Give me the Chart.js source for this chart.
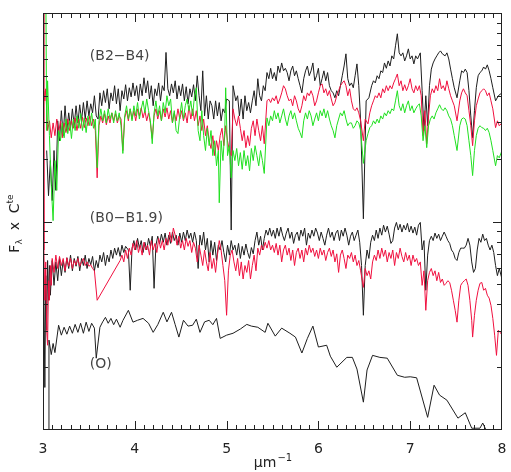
<!DOCTYPE html>
<html>
<head>
<meta charset="utf-8">
<script src="https://cdn.jsdelivr.net/npm/chart.js@4.4.1/dist/chart.umd.min.js"></script>
<style>
  html, body { margin: 0; padding: 0; background: #fff; }
  #spectraChart { display: block; }
</style>
</head>
<body>
<canvas id="spectraChart" width="511" height="472"></canvas>
<script>
// Spectra, [wavenumber (um^-1), flux x const]
const b24Black = [[3.04,21.9],[3.06,13.3],[3.08,19.6],[3.10,12.6],[3.12,21.9],[3.14,14.1],[3.16,30.4],[3.18,24.4],[3.20,34.0],[3.22,25.8],[3.24,35.9],[3.26,27.3],[3.28,33.2],[3.30,28.0],[3.32,34.7],[3.34,28.8],[3.36,35.9],[3.38,29.7],[3.40,36.3],[3.42,30.4],[3.44,37.2],[3.46,31.0],[3.48,37.9],[3.50,32.1],[3.52,36.7],[3.54,33.2],[3.56,40.1],[3.58,32.1],[3.60,31.0],[3.62,41.4],[3.64,35.9],[3.66,42.4],[3.68,37.2],[3.70,43.3],[3.72,34.7],[3.74,41.4],[3.76,37.9],[3.78,44.8],[3.80,36.7],[3.82,43.3],[3.84,34.0],[3.86,42.4],[3.88,38.7],[3.90,45.3],[3.92,37.9],[3.94,43.8],[3.96,39.6],[3.98,46.2],[4.00,40.1],[4.02,44.8],[4.04,37.9],[4.06,45.7],[4.08,40.1],[4.10,48.9],[4.12,41.4],[4.14,47.3],[4.16,38.7],[4.18,44.8],[4.20,35.9],[4.22,43.3],[4.24,40.1],[4.26,46.2],[4.28,37.9],[4.30,44.8],[4.32,42.4],[4.34,64.7],[4.36,43.3],[4.38,40.1],[4.40,45.7],[4.42,41.4],[4.44,47.3],[4.46,38.7],[4.48,44.8],[4.50,40.1],[4.52,45.7],[4.54,37.9],[4.56,44.3],[4.58,36.7],[4.60,43.3],[4.62,39.6],[4.64,45.3],[4.66,37.9],[4.68,50.0],[4.70,40.1],[4.72,34.0],[4.74,52.8],[4.76,32.1],[4.78,40.1],[4.80,31.0],[4.82,37.9],[4.84,35.9],[4.86,31.0],[4.88,37.9],[4.90,32.1],[4.92,37.2],[4.94,30.4],[4.96,34.7],[4.98,33.2],[5.00,38.7],[5.03,37.9],[5.05,9.1],[5.07,44.8],[5.10,37.9],[5.12,40.1],[5.14,32.1],[5.16,38.7],[5.18,31.0],[5.20,40.1],[5.22,34.0],[5.24,37.2],[5.26,33.2],[5.28,37.9],[5.30,42.4],[5.32,35.9],[5.34,48.4],[5.36,40.1],[5.38,37.9],[5.40,44.8],[5.42,42.4],[5.44,51.8],[5.46,48.4],[5.48,54.3],[5.50,48.4],[5.52,51.8],[5.54,47.3],[5.56,55.7],[5.58,51.8],[5.60,57.6],[5.62,52.8],[5.64,54.3],[5.66,51.8],[5.68,47.3],[5.70,52.8],[5.72,55.7],[5.74,50.0],[5.76,52.8],[5.78,48.4],[5.80,44.8],[5.82,41.4],[5.84,48.4],[5.86,52.8],[5.88,55.7],[5.90,50.0],[5.92,52.8],[5.94,57.6],[5.96,47.3],[5.98,50.0],[6.00,54.3],[6.02,44.8],[6.04,48.4],[6.06,52.8],[6.08,47.3],[6.10,51.8],[6.12,44.8],[6.14,42.4],[6.16,41.4],[6.18,39.2],[6.20,42.4],[6.22,40.1],[6.24,44.8],[6.26,50.0],[6.28,55.7],[6.30,63.7],[6.32,48.4],[6.34,44.8],[6.36,46.2],[6.38,43.8],[6.40,50.0],[6.42,57.0],[6.44,44.8],[6.46,30.4],[6.49,10.3],[6.52,37.9],[6.55,39.2],[6.58,44.8],[6.60,47.3],[6.62,46.2],[6.64,50.0],[6.66,48.4],[6.68,52.8],[6.70,51.8],[6.72,57.6],[6.74,54.3],[6.76,58.9],[6.78,55.7],[6.80,62.3],[6.82,60.2],[6.84,69.6],[6.86,79.5],[6.88,64.4],[6.90,62.3],[6.92,64.4],[6.94,58.9],[6.96,62.3],[6.98,67.3],[7.00,60.2],[7.02,62.3],[7.04,57.0],[7.06,62.3],[7.08,60.2],[7.11,64.4],[7.13,42.4],[7.15,27.3],[7.17,40.1],[7.19,28.8],[7.21,44.8],[7.23,53.8],[7.25,57.6],[7.27,60.2],[7.29,62.3],[7.31,64.4],[7.33,65.8],[7.35,63.7],[7.38,62.3],[7.40,64.4],[7.42,60.2],[7.44,53.8],[7.46,48.4],[7.48,43.8],[7.51,39.2],[7.54,47.3],[7.56,52.8],[7.58,51.8],[7.60,53.8],[7.62,51.8],[7.64,42.4],[7.66,32.1],[7.68,25.2],[7.70,34.0],[7.72,43.8],[7.74,50.0],[7.76,51.8],[7.78,52.8],[7.80,55.1],[7.82,53.8],[7.84,56.4],[7.86,52.8],[7.88,48.4],[7.90,43.8],[7.93,37.9],[7.96,40.1],[8.00,41.4]];

const b24Red = [[3.01,42.4],[3.02,37.9],[3.03,43.3],[3.05,27.3],[3.07,30.4],[3.09,25.2],[3.11,29.7],[3.13,25.8],[3.15,31.0],[3.17,26.4],[3.19,30.4],[3.21,25.2],[3.23,29.7],[3.25,26.7],[3.27,31.0],[3.29,27.3],[3.31,30.4],[3.33,28.0],[3.35,31.4],[3.37,27.3],[3.39,31.0],[3.41,28.0],[3.43,31.7],[3.45,28.2],[3.47,31.4],[3.49,28.8],[3.51,32.1],[3.53,28.8],[3.55,31.0],[3.57,27.3],[3.59,16.2],[3.61,28.8],[3.63,32.1],[3.65,29.7],[3.67,32.9],[3.69,29.1],[3.71,32.1],[3.73,29.7],[3.75,33.2],[3.77,30.4],[3.79,32.9],[3.81,29.7],[3.83,32.1],[3.85,31.0],[3.87,21.9],[3.89,31.4],[3.91,34.0],[3.93,30.4],[3.95,34.7],[3.97,31.0],[3.99,34.0],[4.01,30.4],[4.03,34.7],[4.05,32.1],[4.07,35.1],[4.09,31.4],[4.11,34.0],[4.13,30.4],[4.15,33.2],[4.17,29.7],[4.19,25.0],[4.21,32.1],[4.23,34.7],[4.25,31.0],[4.27,34.0],[4.29,30.4],[4.31,34.7],[4.33,31.7],[4.35,35.1],[4.37,31.0],[4.39,34.0],[4.41,29.7],[4.43,33.2],[4.45,30.4],[4.47,34.7],[4.49,31.0],[4.51,34.0],[4.53,30.4],[4.55,33.2],[4.57,29.7],[4.59,35.9],[4.61,31.0],[4.63,34.7],[4.65,30.4],[4.67,34.0],[4.69,28.8],[4.71,32.1],[4.73,27.3],[4.75,31.0],[4.77,25.8],[4.79,28.8],[4.81,24.4],[4.83,22.4],[4.85,25.8],[4.87,20.7],[4.89,24.4],[4.91,21.9],[4.93,25.8],[4.95,28.0],[4.97,23.1],[4.99,28.8],[5.01,24.4],[5.03,21.9],[5.05,20.7],[5.07,34.7],[5.09,31.0],[5.11,28.8],[5.13,32.1],[5.15,28.0],[5.17,24.4],[5.19,27.3],[5.21,22.6],[5.23,25.8],[5.25,23.1],[5.27,28.0],[5.29,30.4],[5.31,25.8],[5.33,31.0],[5.35,27.3],[5.37,24.4],[5.39,28.8],[5.41,23.6],[5.44,37.9],[5.46,38.7],[5.48,37.2],[5.50,39.2],[5.52,37.9],[5.54,40.1],[5.56,36.7],[5.58,38.7],[5.60,41.4],[5.62,44.8],[5.64,43.3],[5.66,40.1],[5.68,37.9],[5.70,38.7],[5.72,35.9],[5.74,40.1],[5.76,37.9],[5.78,34.7],[5.80,33.2],[5.82,35.9],[5.84,40.1],[5.86,37.9],[5.88,41.4],[5.90,40.1],[5.92,42.4],[5.94,40.1],[5.96,35.9],[5.98,37.9],[6.00,41.4],[6.02,44.8],[6.04,45.7],[6.06,41.4],[6.08,43.3],[6.10,40.1],[6.12,42.4],[6.14,38.7],[6.16,35.9],[6.18,37.2],[6.20,40.1],[6.22,42.4],[6.24,44.8],[6.26,46.2],[6.28,47.3],[6.30,44.8],[6.32,40.1],[6.34,43.3],[6.36,37.9],[6.38,34.7],[6.40,34.0],[6.42,35.1],[6.44,33.2],[6.46,30.4],[6.49,24.4],[6.51,31.0],[6.54,29.4],[6.56,33.2],[6.58,35.9],[6.60,37.9],[6.62,40.1],[6.64,39.2],[6.66,41.4],[6.68,39.2],[6.70,43.3],[6.72,41.4],[6.74,44.8],[6.76,42.4],[6.78,44.8],[6.80,43.3],[6.82,46.2],[6.84,48.4],[6.86,51.0],[6.88,44.8],[6.90,47.3],[6.92,42.4],[6.94,45.3],[6.96,42.4],[6.98,44.8],[7.00,48.4],[7.02,43.3],[7.04,41.4],[7.06,44.8],[7.08,42.4],[7.10,44.8],[7.12,40.1],[7.14,25.8],[7.16,34.0],[7.18,23.6],[7.20,32.1],[7.22,40.1],[7.24,43.3],[7.26,41.4],[7.28,44.8],[7.30,42.4],[7.32,48.4],[7.34,43.3],[7.36,44.8],[7.38,42.4],[7.40,47.3],[7.42,43.3],[7.44,40.1],[7.46,37.9],[7.48,35.9],[7.51,30.4],[7.54,37.9],[7.56,41.4],[7.58,43.3],[7.60,41.4],[7.62,40.1],[7.64,34.0],[7.66,28.8],[7.68,23.1],[7.70,30.4],[7.72,35.9],[7.74,38.7],[7.76,41.4],[7.78,42.4],[7.80,43.3],[7.82,42.4],[7.84,40.1],[7.86,41.4],[7.88,37.9],[7.90,34.7],[7.93,28.2],[7.95,30.4],[7.97,28.8],[8.00,29.7]];

const b24Green = [[3.03,150],[3.04,27.3],[3.05,47.3],[3.07,25.8],[3.09,14.9],[3.11,10.1],[3.13,19.6],[3.15,14.1],[3.17,27.3],[3.19,24.4],[3.21,29.7],[3.23,25.2],[3.25,31.0],[3.27,26.4],[3.29,30.4],[3.31,25.0],[3.33,31.0],[3.35,27.3],[3.37,32.1],[3.39,28.0],[3.41,32.9],[3.43,27.3],[3.45,31.4],[3.47,26.7],[3.49,32.1],[3.51,28.8],[3.53,33.2],[3.55,28.0],[3.57,31.0],[3.59,18.1],[3.61,30.4],[3.63,34.7],[3.65,30.4],[3.67,34.0],[3.69,29.7],[3.71,34.7],[3.73,31.0],[3.75,33.2],[3.77,29.7],[3.79,34.0],[3.81,30.4],[3.83,33.2],[3.85,28.8],[3.87,21.2],[3.89,32.1],[3.91,35.9],[3.93,31.0],[3.95,34.7],[3.97,30.4],[3.99,35.9],[4.01,32.1],[4.03,37.2],[4.05,31.0],[4.07,34.7],[4.09,37.9],[4.11,33.2],[4.13,38.7],[4.15,34.0],[4.17,30.4],[4.19,23.6],[4.21,33.2],[4.23,37.9],[4.25,32.1],[4.27,35.9],[4.29,30.4],[4.31,37.2],[4.33,33.2],[4.35,40.1],[4.37,35.9],[4.39,38.7],[4.41,29.7],[4.43,34.0],[4.45,27.3],[4.47,26.4],[4.49,32.1],[4.51,37.2],[4.53,31.0],[4.55,35.9],[4.57,38.7],[4.59,34.0],[4.61,37.9],[4.63,32.1],[4.65,40.1],[4.67,43.8],[4.69,27.3],[4.71,24.4],[4.73,34.0],[4.75,25.8],[4.77,21.9],[4.79,28.0],[4.81,23.1],[4.83,27.3],[4.85,20.7],[4.87,24.4],[4.89,18.5],[4.91,21.9],[4.92,12.3],[4.94,24.4],[4.96,19.6],[4.98,27.3],[4.99,43.8],[5.01,20.7],[5.03,23.1],[5.05,16.2],[5.07,21.9],[5.09,19.6],[5.11,22.4],[5.13,18.5],[5.15,21.4],[5.17,17.8],[5.19,21.9],[5.21,18.5],[5.23,20.7],[5.25,17.5],[5.27,22.4],[5.29,19.6],[5.31,23.1],[5.33,20.7],[5.35,18.5],[5.37,21.9],[5.39,19.6],[5.41,17.0],[5.44,31.4],[5.46,28.8],[5.48,32.1],[5.50,30.4],[5.52,34.0],[5.54,31.0],[5.56,33.2],[5.58,29.7],[5.60,32.1],[5.62,34.7],[5.64,31.0],[5.66,28.8],[5.68,32.1],[5.70,34.0],[5.72,31.0],[5.74,33.2],[5.76,30.4],[5.78,28.0],[5.80,26.7],[5.82,25.2],[5.84,30.4],[5.86,33.2],[5.88,31.0],[5.90,34.0],[5.92,32.1],[5.94,28.8],[5.96,31.0],[5.98,33.2],[6.00,30.4],[6.02,34.0],[6.04,32.1],[6.06,34.7],[6.08,31.4],[6.10,34.0],[6.12,31.0],[6.14,28.8],[6.16,27.3],[6.18,25.2],[6.20,28.8],[6.22,31.0],[6.24,33.2],[6.26,32.1],[6.28,34.0],[6.30,31.0],[6.32,28.8],[6.34,29.7],[6.36,29.7],[6.38,28.0],[6.40,28.8],[6.42,30.4],[6.44,29.7],[6.46,27.3],[6.49,19.0],[6.52,24.4],[6.54,26.4],[6.56,28.2],[6.58,28.8],[6.60,30.4],[6.62,29.4],[6.64,31.0],[6.66,29.7],[6.68,32.1],[6.70,31.0],[6.72,33.2],[6.74,32.1],[6.76,34.0],[6.78,32.9],[6.80,34.7],[6.82,34.0],[6.84,37.9],[6.86,42.4],[6.88,35.9],[6.90,34.0],[6.92,36.7],[6.94,33.2],[6.96,35.9],[6.98,37.9],[7.00,34.0],[7.02,35.9],[7.04,33.2],[7.06,34.7],[7.08,35.9],[7.10,36.7],[7.12,32.1],[7.14,24.4],[7.16,28.8],[7.18,22.6],[7.20,28.8],[7.22,31.0],[7.24,32.1],[7.26,31.0],[7.28,33.2],[7.30,34.7],[7.32,36.3],[7.34,34.7],[7.36,34.0],[7.38,35.1],[7.40,34.0],[7.42,32.1],[7.44,31.0],[7.46,28.8],[7.48,25.8],[7.51,21.9],[7.54,28.8],[7.56,31.0],[7.58,31.4],[7.60,31.0],[7.62,28.8],[7.64,24.4],[7.66,20.7],[7.68,16.6],[7.70,21.9],[7.72,25.8],[7.74,28.0],[7.76,28.8],[7.78,28.2],[7.80,28.0],[7.82,27.3],[7.84,28.0],[7.86,26.7],[7.88,24.4],[7.90,21.9],[7.93,18.5],[7.95,20.7],[7.97,20.2],[8.00,21.9]];

const b019Black = [[3.01,4.68],[3.02,1.6],[3.03,5.5],[3.04,3.01],[3.05,6.5],[3.06,4.19],[3.07,6.15],[3.08,4.43],[3.10,6.5],[3.12,4.94],[3.14,6.4],[3.16,5.2],[3.18,6.65],[3.20,5.5],[3.22,6.5],[3.24,5.7],[3.26,6.7],[3.28,5.95],[3.30,6.9],[3.32,5.8],[3.34,6.65],[3.36,6.1],[3.38,6.8],[3.40,5.8],[3.42,6.65],[3.44,6.15],[3.46,6.9],[3.48,5.95],[3.50,6.65],[3.52,6.2],[3.54,6.8],[3.56,5.8],[3.58,6.5],[3.60,6.0],[3.62,6.9],[3.64,6.4],[3.66,7.1],[3.68,6.15],[3.70,6.9],[3.72,6.4],[3.74,7.3],[3.76,6.65],[3.78,7.45],[3.80,6.9],[3.82,7.5],[3.84,6.8],[3.86,7.7],[3.88,7.1],[3.90,7.6],[3.93,7.3],[3.95,4.68],[3.97,7.45],[3.99,8.1],[4.01,7.3],[4.03,8.3],[4.05,7.45],[4.07,8.1],[4.09,7.1],[4.11,7.95],[4.13,7.3],[4.15,8.3],[4.17,7.6],[4.19,8.5],[4.21,4.78],[4.23,7.7],[4.25,8.5],[4.27,7.8],[4.29,8.7],[4.31,7.95],[4.33,8.8],[4.35,7.7],[4.37,8.6],[4.39,7.85],[4.41,8.9],[4.43,8.1],[4.45,8.6],[4.47,7.7],[4.49,8.8],[4.51,7.95],[4.53,8.9],[4.55,8.1],[4.57,9.1],[4.59,8.3],[4.61,8.8],[4.63,7.95],[4.65,8.9],[4.67,8.1],[4.69,5.95],[4.71,8.6],[4.73,7.7],[4.75,8.9],[4.77,7.3],[4.79,8.3],[4.81,6.4],[4.83,8.1],[4.85,6.9],[4.87,7.95],[4.89,6.5],[4.91,7.7],[4.93,7.3],[4.95,8.1],[4.97,7.1],[4.99,6.4],[5.01,7.7],[5.03,6.9],[5.05,8.1],[5.07,7.3],[5.09,7.7],[5.11,6.9],[5.13,7.85],[5.15,6.65],[5.17,7.6],[5.19,6.9],[5.21,7.8],[5.23,7.1],[5.25,6.65],[5.27,7.5],[5.29,7.0],[5.31,8.1],[5.33,8.9],[5.35,7.7],[5.37,8.5],[5.39,7.3],[5.41,8.3],[5.43,9.1],[5.45,8.6],[5.47,9.3],[5.49,8.5],[5.51,9.1],[5.53,8.3],[5.55,9.3],[5.57,8.5],[5.59,9.4],[5.61,8.6],[5.63,8.1],[5.65,8.8],[5.67,9.3],[5.69,8.3],[5.71,8.9],[5.73,7.85],[5.75,8.6],[5.77,8.9],[5.79,8.1],[5.81,9.1],[5.83,8.5],[5.85,9.3],[5.87,7.7],[5.89,8.8],[5.91,8.3],[5.93,9.1],[5.95,8.5],[5.97,9.3],[5.99,8.8],[6.01,8.1],[6.03,8.9],[6.05,8.3],[6.07,7.7],[6.09,8.6],[6.11,9.3],[6.13,8.4],[6.15,8.9],[6.17,8.1],[6.19,8.8],[6.21,9.1],[6.23,8.1],[6.25,9.1],[6.27,8.5],[6.29,9.3],[6.31,8.6],[6.33,7.7],[6.35,8.5],[6.37,8.9],[6.39,8.1],[6.41,8.6],[6.43,9.1],[6.45,7.95],[6.47,6.15],[6.49,3.55],[6.51,6.15],[6.53,7.3],[6.55,6.65],[6.57,7.95],[6.59,8.6],[6.61,8.1],[6.63,9.1],[6.65,8.3],[6.67,9.3],[6.69,8.6],[6.71,9.6],[6.73,8.9],[6.75,9.5],[6.77,8.7],[6.79,7.85],[6.81,8.1],[6.83,9.3],[6.85,9.9],[6.87,9.1],[6.89,9.7],[6.91,8.9],[6.93,9.6],[6.95,9.1],[6.97,9.8],[6.99,8.9],[7.01,9.5],[7.03,8.8],[7.05,9.4],[7.07,8.6],[7.09,9.6],[7.11,9.9],[7.13,7.3],[7.15,8.1],[7.17,4.68],[7.19,6.9],[7.21,8.1],[7.23,8.5],[7.25,8.1],[7.27,8.8],[7.29,8.3],[7.31,8.7],[7.33,8.1],[7.35,8.5],[7.37,8.9],[7.39,8.5],[7.41,8.1],[7.43,7.85],[7.45,7.3],[7.47,7.1],[7.49,6.65],[7.51,6.5],[7.53,7.1],[7.55,7.45],[7.57,7.45],[7.59,7.45],[7.61,7.7],[7.63,8.3],[7.65,7.7],[7.67,6.4],[7.69,5.7],[7.71,5.95],[7.73,7.3],[7.75,8.3],[7.77,7.95],[7.79,8.7],[7.81,8.1],[7.83,8.3],[7.85,7.7],[7.87,7.3],[7.89,7.7],[7.91,7.1],[7.93,6.15],[7.95,5.5],[7.97,5.95],[8.00,5.3]];

const b019Red = [[3.00,200],[3.01,7.3],[3.02,4.19],[3.03,6.4],[3.04,3.01],[3.05,2.55],[3.06,5.2],[3.07,4.19],[3.08,6.15],[3.09,4.94],[3.10,6.65],[3.12,5.7],[3.14,6.9],[3.16,5.95],[3.18,6.8],[3.20,6.15],[3.22,6.65],[3.24,5.8],[3.26,6.7],[3.28,6.1],[3.30,6.65],[3.32,5.95],[3.34,6.5],[3.36,6.2],[3.38,6.65],[3.40,6.1],[3.42,6.4],[3.44,6.65],[3.46,6.15],[3.48,6.4],[3.50,6.1],[3.52,6.2],[3.54,5.95],[3.56,5.8],[3.59,4.19],[3.84,6.5],[3.86,6.9],[3.88,6.4],[3.90,7.3],[3.92,6.65],[3.94,7.45],[3.96,6.9],[3.98,7.85],[4.00,7.3],[4.02,8.1],[4.04,7.1],[4.06,7.7],[4.08,6.9],[4.10,7.95],[4.12,7.3],[4.14,7.7],[4.16,6.9],[4.18,8.1],[4.20,7.3],[4.22,7.85],[4.24,7.1],[4.26,8.3],[4.28,7.45],[4.30,8.1],[4.32,7.3],[4.34,8.3],[4.36,7.7],[4.38,8.9],[4.40,7.95],[4.42,9.3],[4.44,8.6],[4.46,7.7],[4.48,8.5],[4.50,7.45],[4.52,8.1],[4.54,7.3],[4.56,8.3],[4.58,7.6],[4.60,8.1],[4.62,7.1],[4.64,7.95],[4.66,7.45],[4.68,6.4],[4.70,7.7],[4.72,6.9],[4.74,6.15],[4.76,7.3],[4.78,6.4],[4.80,5.8],[4.82,7.1],[4.84,5.95],[4.86,6.65],[4.88,5.7],[4.90,6.9],[4.92,8.1],[4.94,7.3],[4.96,6.15],[4.98,5.2],[5.00,3.55],[5.02,5.8],[5.04,6.9],[5.06,7.3],[5.08,6.4],[5.10,5.8],[5.12,6.65],[5.14,5.5],[5.16,6.4],[5.18,5.3],[5.20,6.15],[5.22,5.7],[5.24,6.5],[5.26,5.3],[5.28,6.15],[5.30,6.9],[5.32,5.8],[5.34,7.45],[5.36,6.9],[5.38,7.7],[5.40,7.3],[5.42,7.95],[5.44,7.45],[5.46,8.1],[5.48,7.3],[5.50,7.7],[5.52,7.1],[5.54,7.85],[5.56,6.9],[5.58,7.7],[5.60,6.4],[5.62,7.3],[5.64,7.7],[5.66,6.9],[5.68,7.45],[5.70,6.5],[5.72,7.3],[5.74,6.15],[5.76,7.1],[5.78,7.45],[5.80,6.65],[5.82,7.3],[5.84,6.4],[5.86,7.45],[5.88,6.9],[5.90,7.7],[5.92,7.1],[5.94,7.45],[5.96,6.8],[5.98,7.3],[6.00,6.65],[6.02,7.45],[6.04,6.9],[6.06,7.3],[6.08,6.5],[6.10,7.1],[6.12,7.45],[6.14,6.8],[6.16,7.3],[6.18,6.4],[6.20,7.0],[6.22,5.7],[6.24,6.9],[6.26,7.3],[6.28,6.65],[6.30,5.95],[6.32,6.9],[6.34,6.65],[6.36,7.1],[6.38,6.4],[6.40,6.9],[6.42,6.15],[6.44,6.5],[6.46,5.8],[6.49,4.83],[6.51,5.95],[6.53,5.5],[6.55,5.8],[6.57,5.3],[6.59,6.4],[6.61,6.9],[6.63,6.5],[6.65,7.3],[6.67,6.65],[6.69,7.45],[6.71,6.8],[6.73,7.3],[6.75,6.4],[6.77,7.1],[6.79,6.65],[6.81,7.3],[6.83,6.15],[6.85,7.1],[6.87,6.65],[6.89,7.45],[6.91,6.8],[6.93,6.4],[6.95,7.1],[6.97,6.5],[6.99,6.9],[7.01,6.15],[7.03,6.9],[7.05,6.4],[7.07,6.65],[7.09,6.15],[7.11,6.4],[7.13,4.94],[7.15,5.8],[7.17,3.75],[7.19,5.2],[7.21,5.7],[7.23,5.95],[7.25,5.5],[7.27,5.8],[7.29,5.2],[7.31,5.7],[7.33,5.1],[7.35,5.3],[7.37,4.94],[7.39,5.05],[7.41,5.2],[7.43,5.1],[7.45,4.68],[7.47,4.19],[7.49,3.75],[7.51,3.29],[7.53,4.19],[7.55,4.94],[7.57,5.1],[7.59,5.2],[7.61,5.3],[7.63,4.94],[7.65,4.19],[7.67,3.36],[7.68,2.79],[7.70,3.55],[7.72,4.19],[7.74,4.68],[7.76,5.05],[7.78,5.1],[7.80,4.68],[7.82,4.78],[7.84,4.43],[7.86,4.29],[7.88,3.96],[7.90,3.43],[7.92,2.85],[7.94,2.28],[7.96,3.01],[7.98,2.94],[8.00,2.85]];

const oStar = [[3.06,0.9],[3.065,2.7],[3.09,2.3],[3.11,2.6],[3.13,2.35],[3.17,3.18],[3.20,2.85],[3.23,3.11],[3.26,2.88],[3.29,3.15],[3.32,2.91],[3.35,3.21],[3.38,2.94],[3.41,3.25],[3.44,2.91],[3.47,3.29],[3.50,2.97],[3.53,3.25],[3.56,3.08],[3.58,2.21],[3.62,3.11],[3.65,3.3],[3.68,3.47],[3.71,3.25],[3.74,3.43],[3.77,3.2],[3.80,3.4],[3.84,3.11],[3.87,3.35],[3.93,3.75],[3.98,3.29],[4.03,3.36],[4.09,3.43],[4.15,3.25],[4.20,2.94],[4.25,3.2],[4.31,3.67],[4.35,3.3],[4.40,3.67],[4.44,3.2],[4.48,2.79],[4.53,3.36],[4.58,3.15],[4.63,3.18],[4.67,3.4],[4.71,2.94],[4.76,3.3],[4.81,3.36],[4.85,3.2],[4.89,3.43],[4.93,2.75],[5.00,2.85],[5.07,2.91],[5.15,3.05],[5.22,3.21],[5.27,3.15],[5.34,3.11],[5.42,2.94],[5.45,3.25],[5.53,2.82],[5.60,3.08],[5.69,2.91],[5.75,2.79],[5.82,2.34],[5.88,2.75],[5.94,3.15],[6.00,2.5],[6.09,2.55],[6.13,2.26],[6.20,2.0],[6.31,2.23],[6.37,2.23],[6.42,1.96],[6.49,1.36],[6.53,1.94],[6.59,2.28],[6.67,2.23],[6.75,2.21],[6.86,1.83],[6.94,1.79],[7.00,1.8],[7.07,1.78],[7.19,1.15],[7.26,1.64],[7.32,1.47],[7.40,1.39],[7.52,1.14],[7.60,1.21],[7.67,1.02],[7.76,1.02],[7.79,1.08],[7.84,0.97],[7.90,0.9]];

const yTickValues = [1, 2, 3, 4, 5, 6, 7, 8, 9, 10, 20, 30, 40, 50, 60, 70, 80, 90, 100];

const BLACK = '#1e1e1e';
const RED = '#f0103f';
const GREEN = '#20e020';

function spectrum(pairs, color) {
    return {
        data: pairs.map(p => ({ x: p[0], y: p[1] })),
        borderColor: color,
        borderWidth: 1,
        pointRadius: 0,
        showLine: true,
        tension: 0
    };
}

// frame, inward ticks and the hand lettered texts
const frameTicks = {
    id: 'frameTicks',
    afterDraw(chart) {
        const { ctx, chartArea: a, scales: { x, y } } = chart;
        ctx.save();
        ctx.strokeStyle = '#222';
        ctx.lineWidth = 1;
        ctx.strokeRect(a.left + 0.5, a.top + 0.5, a.right - a.left - 1, a.bottom - a.top - 1);
        ctx.beginPath();
        for (let i = 31; i < 80; i++) {
            const px = Math.round(x.getPixelForValue(i / 10)) + 0.5;
            const len = i % 10 === 0 ? 9 : 5;
            ctx.moveTo(px, a.bottom); ctx.lineTo(px, a.bottom - len);
            ctx.moveTo(px, a.top); ctx.lineTo(px, a.top + len);
        }
        yTickValues.slice(1, -1).forEach(v => {
            const py = Math.round(y.getPixelForValue(v)) + 0.5;
            const len = v === 10 ? 9 : 5;
            ctx.moveTo(a.left, py); ctx.lineTo(a.left + len, py);
            ctx.moveTo(a.right, py); ctx.lineTo(a.right - len, py);
        });
        ctx.stroke();

        ctx.fillStyle = '#444';
        ctx.textBaseline = 'middle';
        ctx.textAlign = 'left';
        ctx.font = '14px "DejaVu Sans"';
        ctx.fillText('(B2\u2212B4)', x.getPixelForValue(3.51), y.getPixelForValue(62));
        ctx.fillText('(B0\u2212B1.9)', x.getPixelForValue(3.51), y.getPixelForValue(10.4));
        ctx.fillText('(O)', x.getPixelForValue(3.51), y.getPixelForValue(2.07));

        // x title
        ctx.textBaseline = 'alphabetic';
        ctx.fillStyle = '#222';
        ctx.font = '14px "DejaVu Sans"';
        const mu = '\u03bcm';
        const wMu = ctx.measureText(mu).width;
        ctx.font = '10px "DejaVu Sans"';
        const wExp = ctx.measureText('\u22121').width;
        let tx = (a.left + a.right) / 2 - (wMu + wExp) / 2;
        ctx.font = '14px "DejaVu Sans"';
        ctx.fillText(mu, tx, 467);
        ctx.font = '10px "DejaVu Sans"';
        ctx.fillText('\u22121', tx + wMu + 1, 461);

        // y title
        ctx.translate(19, (a.top + a.bottom) / 2 + 2);
        ctx.rotate(-Math.PI / 2);
        const parts = [
            ['F', 14, 0], ['\u03bb', 9, 3], ['  x  ', 14, 0], ['C', 14, 0], ['te', 9, -6]
        ];
        let total = 0;
        parts.forEach(p => { ctx.font = p[1] + 'px "DejaVu Sans"'; total += ctx.measureText(p[0]).width; });
        let cx = -total / 2;
        parts.forEach(p => {
            ctx.font = p[1] + 'px "DejaVu Sans"';
            ctx.fillText(p[0], cx, p[2]);
            cx += ctx.measureText(p[0]).width;
        });
        ctx.restore();
    }
};

const spectraCtx = document.getElementById('spectraChart').getContext('2d');
const spectraChart = new Chart(spectraCtx, {
    type: 'scatter',
    data: {
        datasets: [
            spectrum(b24Green, GREEN),
            spectrum(b24Red, RED),
            spectrum(b019Red, RED),
            spectrum(b24Black, BLACK),
            spectrum(b019Black, BLACK),
            spectrum(oStar, BLACK)
        ]
    },
    options: {
        responsive: false,
        animation: false,
        layout: {
            padding: { top: 13, right: 9, left: 0, bottom: 0 }
        },
        plugins: {
            legend: { display: false },
            tooltip: { enabled: false }
        },
        scales: {
            x: {
                type: 'linear',
                min: 3,
                max: 8,
                ticks: {
                    stepSize: 1,
                    padding: 0,
                    maxRotation: 0,
                    minRotation: 0,
                    color: '#222',
                    font: { family: 'DejaVu Sans', size: 14 }
                },
                grid: { display: false, drawTicks: true, tickLength: 11 },
                border: { display: false },
                afterFit: s => { s.height = 42; }
            },
            y: {
                type: 'logarithmic',
                min: 1,
                max: 100,
                ticks: { display: false },
                grid: { display: false, drawTicks: false },
                border: { display: false },
                afterFit: s => { s.width = 43; }
            }
        }
    },
    plugins: [frameTicks]
});
</script>
</body>
</html>
